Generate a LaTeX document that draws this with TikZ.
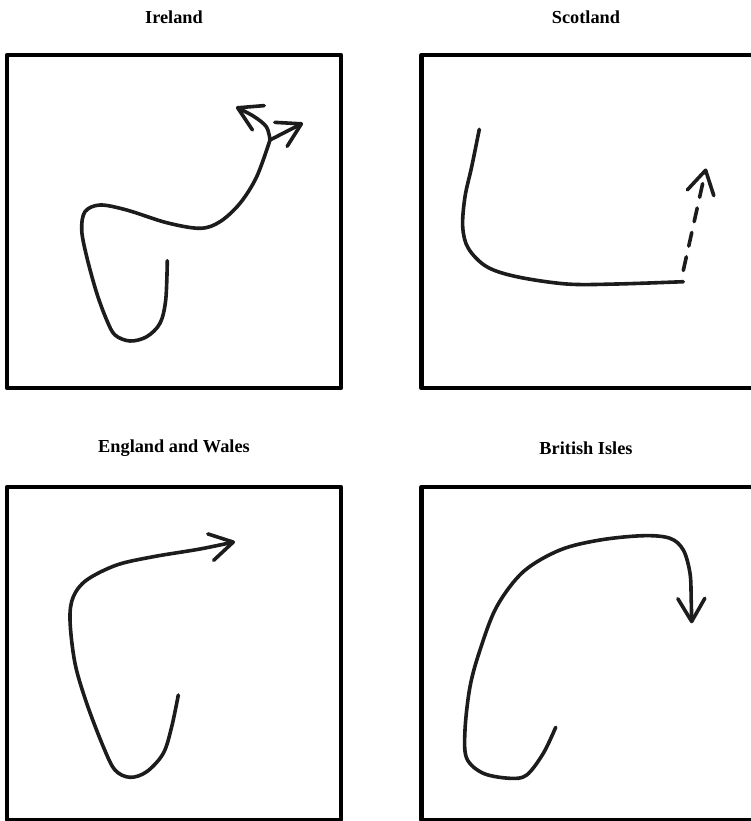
\documentclass[tikz,border=0pt]{standalone}
\usepackage{fontspec}
\setmainfont{Liberation Serif}
\usetikzlibrary{arrows.meta}
\definecolor{ink}{HTML}{1C1C1C}
\begin{document}
\begin{tikzpicture}[x=1pt,y=-1pt,
  title/.style={font=\fontsize{18.3}{20}\selectfont\bfseries, text=black, inner sep=0pt},
  frame/.style={draw=black, line width=4.5pt, line join=round},
  stroke/.style={draw=ink, line width=3.6pt, line cap=round, line join=round},
  barb/.style={-{Straight Barb[length=23pt,width=27pt,line cap=round,line join=round]}},
  sm/.style={smooth, tension=0.55}]
\useasboundingbox (0,0) rectangle (750,821);
% titles
\node[title] (tIre) at (174,17) {Ireland};
\node[title] (tSco) at (586,17) {Scotland};
\node[title] (tEng) at (174,448) {England and Wales};
\node[title] (tBri) at (586,448) {British Isles};
% frames
\draw[frame] (7,55) rectangle (341,388);
\draw[frame] (421.5,55) rectangle (755,388);
\draw[frame] (7,487) rectangle (341,820);
\draw[frame] (421.5,487) rectangle (755,820);
% Ireland
\coordinate (fork) at (270,140);
\draw[stroke] plot[sm] coordinates {(167.3,260.7) (165.7,300) (160,323.3) (146.7,336.7) (130,341) (115,335) (106.7,320) (96.7,293) (86.7,256.7) (81.7,230) (85,211.7) (100,205) (126.7,210) (166.7,222.7) (200,228.3) (220,221.7) (240,203.3) (256.7,176.7) (270,140)};
\draw[stroke,barb] plot[sm] coordinates {(270,140) (266.5,127) (254,116.5) (236,107)};
\coordinate (ireB) at (303,123);
\draw[stroke,barb] (fork) -- (ireB);
% Scotland
\coordinate (scoEnd) at (683.3,281.7);
\draw[stroke] plot[sm] coordinates {(479.3,129.3) (471.7,166.7) (465,196.7) (462.7,226.7) (468.3,248.3) (486.7,266.7) (516.7,276.7) (566.7,284) (616.7,284) (683.3,281.7)};
\coordinate (scoS) at (683.3,270.5);
\coordinate (scoT) at (706,168.5);
\draw[stroke,barb,dash pattern=on 14pt off 11pt] (scoS) -- (scoT);
% England and Wales
\draw[stroke,barb] plot[sm] coordinates {(178.3,695) (171.7,726.7) (163.3,753.3) (146.7,771.7) (130,777.3) (115,770) (103.3,746.7) (86.7,703.3) (75,663.3) (70,620) (73.3,596.7) (86.7,580) (116.7,565) (153.3,556.7) (200,549) (235,541.7)};
% British Isles
\draw[stroke,barb] plot[sm] coordinates {(555.7,727.3) (543.3,753.3) (526.7,775) (510,778.3) (483.3,773.3) (466.7,758.3) (465,730) (470,686.7) (480,650) (496.7,606.7) (523.3,571.7) (560,550) (600,540) (643.3,535.7) (670,538.3) (683.3,550) (690,573.3) (691.2,600) (691.7,623.3)};
\end{tikzpicture}
\end{document}
